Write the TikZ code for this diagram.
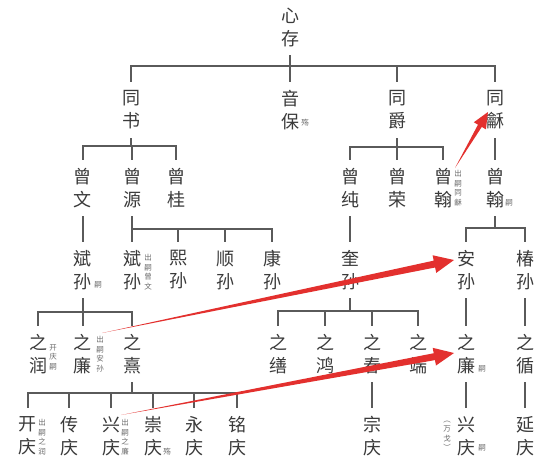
\documentclass[tikz,border=0pt]{standalone}
\usepackage{fontspec}
\newfontfamily\cjk{Noto Sans CJK SC}
\usetikzlibrary{calc}
\definecolor{txtcol}{HTML}{3A3A3A}
\definecolor{notecol}{HTML}{6A6A6A}
\definecolor{lncol}{HTML}{5A5A5A}
\definecolor{arrcol}{HTML}{E3302E}
\newcommand\myTaper[5]{%
  \coordinate (tb) at ($(#2)!#5!(#1)$);
  \fill[arrcol] (#1) -- ($(tb)!#3!90:(#2)$) -- ($(tb)!#4!90:(#2)$) -- (#2)
    -- ($(tb)!#4!-90:(#2)$) -- ($(tb)!#3!-90:(#2)$) -- cycle;}
\begin{document}
\begin{tikzpicture}[x=1pt,y=-1pt,
  nm/.style={font=\cjk\fontsize{18}{23}\selectfont, text=txtcol, align=center, inner sep=0pt, minimum height=56pt},
  note/.style={font=\cjk\fontsize{7.5}{9.5}\selectfont, text=notecol, align=center, inner sep=0pt},
  link/.style={draw=lncol, line width=1.1pt}]
\fill[white] (0,0) rectangle (550,459);
\useasboundingbox (0,0) rectangle (550,459);
% level 1
\node[nm] (xc) at (290,27) {心\\存};
% level 2
\node[nm] (ts) at (131,110) {同\\书};
\node[nm] (yb) at (290,110) {音\\保};
\node[nm] (tj) at (397,110) {同\\爵};
\node[nm] (th) at (495,110) {同\\龢};
% level 3
\node[nm] (zw) at (83,188) {曾\\文};
\node[nm] (zy) at (132,188) {曾\\源};
\node[nm] (zg) at (176,188) {曾\\桂};
\node[nm] (zc) at (350,188) {曾\\纯};
\node[nm] (zr) at (397,188) {曾\\荣};
\node[nm] (zha) at (443,188) {曾\\翰};
\node[nm] (zhb) at (495,188) {曾\\翰};
% level 4
\node[nm] (bsa) at (83,270) {斌\\孙};
\node[nm] (bsb) at (132,270) {斌\\孙};
\node[nm] (xs) at (178,270) {熙\\孙};
\node[nm] (ss) at (225,270) {顺\\孙};
\node[nm] (ks) at (272,270) {康\\孙};
\node[nm] (kui) at (350,270) {奎\\孙};
\node[nm] (as) at (466,270) {安\\孙};
\node[nm] (cs) at (525,270) {椿\\孙};
% level 5
\node[nm] (zrun) at (38,354) {之\\润};
\node[nm] (zla) at (83,354) {之\\廉};
\node[nm] (zx) at (132,354) {之\\熹};
\node[nm] (zs) at (278,354) {之\\缮};
\node[nm] (zhong) at (325,354) {之\\鸿};
\node[nm] (zchun) at (372,354) {之\\春};
\node[nm] (zd) at (418,354) {之\\端};
\node[nm] (zlb) at (466,354) {之\\廉};
\node[nm] (zxun) at (525,354) {之\\循};
% level 6
\node[nm] (kq) at (28,436) {开\\庆};
\node[nm] (cq) at (69,436) {传\\庆};
\node[nm] (xqa) at (111,436) {兴\\庆};
\node[nm] (chq) at (153,436) {崇\\庆};
\node[nm] (yq) at (194,436) {永\\庆};
\node[nm] (mq) at (237,436) {铭\\庆};
\node[nm] (zq) at (372,436) {宗\\庆};
\node[nm] (xqb) at (466,436) {兴\\庆};
\node[nm] (yanq) at (525,436) {延\\庆};
% notes
\node[note] (n1) at (305,123) {殇};
\node[note] (n2) at (98,285) {嗣};
\node[note] (n3) at (148,272) {出\\嗣\\曾\\文};
\node[note] (n4) at (458,188) {出\\嗣\\同\\龢};
\node[note] (n5) at (509,203) {嗣};
\node[note] (n6) at (53,357) {开\\庆\\嗣};
\node[note] (n7) at (100,354) {出\\嗣\\安\\孙};
\node[note] (n8) at (482,369) {嗣};
\node[note] (n9) at (42,437) {出\\嗣\\之\\润};
\node[note] (n10) at (125,437) {出\\嗣\\之\\廉};
\node[note] (n11) at (167,452) {殇};
\node[note] (n12) at (482,448) {嗣};
\node[note] (n13) at (447,436) {︵\\万\\戈\\︶};
% bars
\coordinate (b0) at (290,66);
\coordinate (b1) at (132,146);
\coordinate (b2) at (397,147);
\coordinate (b3) at (132,229);
\coordinate (b4) at (495,228);
\coordinate (b5) at (83,312);
\coordinate (b6) at (350,311);
\coordinate (b7) at (132,393);
% connectors
\draw[link] (xc.south) -- (xc.south |- b0);
\draw[link] (ts.north) -- (ts.north |- b0) -- (th.north |- b0) -- (th.north);
\draw[link] (yb.north) -- (yb.north |- b0);
\draw[link] (tj.north) -- (tj.north |- b0);
\draw[link] (ts.south) -- (ts.south |- b1);
\draw[link] (zw.north) -- (zw.north |- b1) -- (zg.north |- b1) -- (zg.north);
\draw[link] (zy.north) -- (zy.north |- b1);
\draw[link] (tj.south) -- (tj.south |- b2);
\draw[link] (zc.north) -- (zc.north |- b2) -- (zha.north |- b2) -- (zha.north);
\draw[link] (zr.north) -- (zr.north |- b2);
\draw[link] (th.south) -- (zhb.north);
\draw[link] (zw.south) -- (bsa.north);
\draw[link] (zy.south) -- (zy.south |- b3);
\draw[link] (bsb.north) -- (bsb.north |- b3) -- (ks.north |- b3) -- (ks.north);
\draw[link] (xs.north) -- (xs.north |- b3);
\draw[link] (ss.north) -- (ss.north |- b3);
\draw[link] (zc.south) -- (kui.north);
\draw[link] (zhb.south) -- (zhb.south |- b4);
\draw[link] (as.north) -- (as.north |- b4) -- (cs.north |- b4) -- (cs.north);
\draw[link] (bsa.south) -- (bsa.south |- b5);
\draw[link] (zrun.north) -- (zrun.north |- b5) -- (zx.north |- b5) -- (zx.north);
\draw[link] (zla.north) -- (zla.north |- b5);
\draw[link] (kui.south) -- (kui.south |- b6);
\draw[link] (zs.north) -- (zs.north |- b6) -- (zd.north |- b6) -- (zd.north);
\draw[link] (zhong.north) -- (zhong.north |- b6);
\draw[link] (zchun.north) -- (zchun.north |- b6);
\draw[link] (as.south) -- (zlb.north);
\draw[link] (cs.south) -- (zxun.north);
\draw[link] (zx.south) -- (zx.south |- b7);
\draw[link] (kq.north) -- (kq.north |- b7) -- (mq.north |- b7) -- (mq.north);
\draw[link] (cq.north) -- (cq.north |- b7);
\draw[link] (xqa.north) -- (xqa.north |- b7);
\draw[link] (chq.north) -- (chq.north |- b7);
\draw[link] (yq.north) -- (yq.north |- b7);
\draw[link] (zchun.south) -- (zq.north);
\draw[link] (zlb.south) -- (xqb.north);
\draw[link] (zxun.south) -- (yanq.north);
% red arrows
\coordinate (a1s) at (455,168);
\coordinate (a1t) at (488,112);
\coordinate (a2s) at (102,333);
\coordinate (a2t) at (454,260);
\coordinate (a3s) at (121,415);
\coordinate (a3t) at (454,353);
\myTaper{a1s}{a1t}{2.2pt}{7pt}{16pt}
\myTaper{a2s}{a2t}{3.5pt}{9pt}{20pt}
\myTaper{a3s}{a3t}{3.5pt}{9pt}{20pt}
\end{tikzpicture}
\end{document}
